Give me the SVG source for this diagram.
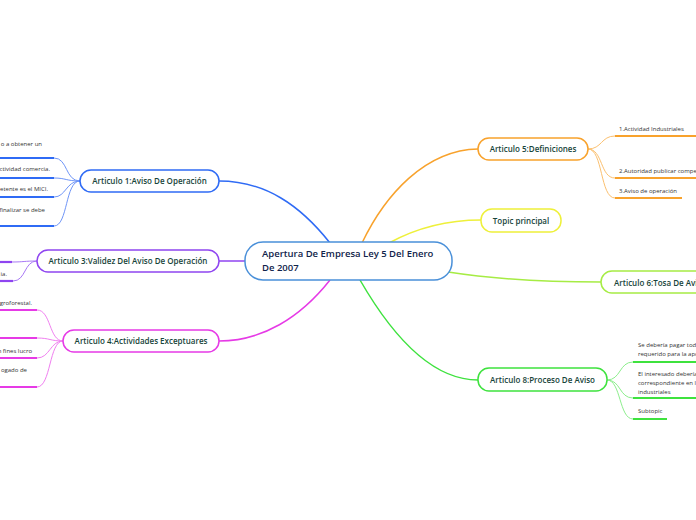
<svg xmlns="http://www.w3.org/2000/svg" width="696" height="520" viewBox="0 0 696 520">
<style>
.node{fill:#ffffff;stroke-width:1.5}
.nt{font-family:"Open Sans","Noto Sans",sans-serif;font-size:8px;font-weight:600;fill:#17443a;text-anchor:middle}
.ct{font-family:"Open Sans","Noto Sans",sans-serif;font-size:9.5px;font-weight:600;fill:#10234a}
.lt{font-family:"Open Sans","Noto Sans",sans-serif;font-size:6px;fill:#333333}
.le{text-anchor:end}
.main{fill:none;stroke-width:1.5}
.sub{fill:none;stroke-width:1}
.ul{fill:none;stroke-width:2.2}
</style>
<rect width="696" height="520" fill="#ffffff"/>
<g id="connectors">
  <path class="main" stroke="#2f6bf5" d="M219,181 C265,181 300,205 330,243"/>
  <path class="main" stroke="#8f45f0" d="M245,261 L219,261"/>
  <path class="main" stroke="#e63ae6" d="M330,280 C300,318 262,341 219,341"/>
  <path class="main" stroke="#f8a22c" d="M362,243 C385,195 425,150 478,149"/>
  <path class="main" stroke="#eef03a" d="M389,243 C420,226 450,220 481,220"/>
  <path class="main" stroke="#a6ec44" d="M448,272 C500,280 550,282 601,282"/>
  <path class="main" stroke="#3ee23e" d="M360,280 C390,332 430,380 478,380"/>
  <g stroke="#6f95f7">
    <path class="sub" d="M80,181 C65,181 68,158 54,158"/>
    <path class="sub" d="M80,181 C66,181 66,178 54,178"/>
    <path class="sub" d="M80,181 C66,181 66,197 54,197"/>
    <path class="sub" d="M80,181 C65,181 68,226 54,226"/>
  </g>
  <g stroke="#2f6bf5">
    <path class="ul" d="M0,158 L54,158"/>
    <path class="ul" d="M0,178 L54,178"/>
    <path class="ul" d="M0,197 L54,197"/>
    <path class="ul" d="M0,226 L54,226"/>
  </g>
  <g stroke="#a877f5">
    <path class="sub" d="M37,261 C24,261 24,262 12,262"/>
    <path class="sub" d="M37,261 C24,261 26,281 13,281"/>
  </g>
  <g stroke="#8f45f0">
    <path class="ul" d="M0,262 L12,262"/>
    <path class="ul" d="M0,281 L13,281"/>
  </g>
  <g stroke="#f07ff0">
    <path class="sub" d="M63,341 C49,341 51,310 37,310"/>
    <path class="sub" d="M63,341 C50,341 50,338 37,338"/>
    <path class="sub" d="M63,341 C50,341 50,358 37,358"/>
    <path class="sub" d="M63,341 C49,341 51,387 37,387"/>
  </g>
  <g stroke="#e63ae6">
    <path class="ul" d="M0,310 L37,310"/>
    <path class="ul" d="M0,338 L37,338"/>
    <path class="ul" d="M0,358 L37,358"/>
    <path class="ul" d="M0,387 L37,387"/>
  </g>
  <g stroke="#fbc06f">
    <path class="sub" d="M588,149 C602,149 601,136 615,136"/>
    <path class="sub" d="M588,149 C603,149 600,178 615,178"/>
    <path class="sub" d="M588,149 C603,149 600,198 615,198"/>
  </g>
  <g stroke="#f8a22c">
    <path class="ul" d="M615,136 L696,136"/>
    <path class="ul" d="M615,178 L696,178"/>
    <path class="ul" d="M615,198 L682,198"/>
  </g>
  <g stroke="#8cee8c">
    <path class="sub" d="M607,380 C621,380 619,362 633,362"/>
    <path class="sub" d="M607,380 C621,380 619,398 633,398"/>
    <path class="sub" d="M607,380 C621,380 619,419 633,419"/>
  </g>
  <g stroke="#3ee23e">
    <path class="ul" d="M633,362 L696,362"/>
    <path class="ul" d="M633,398 L696,398"/>
    <path class="ul" d="M633,419 L667,419"/>
  </g>
</g>
<g id="central">
  <rect class="node" x="245" y="242" width="207" height="38" rx="18" stroke="#4a90d9"/>
  <text class="ct" x="262" y="257">Apertura De Empresa Ley 5 Del Enero</text>
  <text class="ct" x="262" y="271">De 2007</text>
</g>
<g id="art1">
  <rect class="node" x="80" y="170" width="139" height="22" rx="11" stroke="#2f6bf5"/>
  <text class="nt" x="149.5" y="184">Articulo 1:Aviso De Operación</text>
</g>
<g id="art1-leaves">
  <text class="lt le" x="42" y="146">o a obtener un</text>
  <text class="lt le" x="50" y="171">ctividad comercia.</text>
  <text class="lt le" x="48" y="191">etente es el MICI.</text>
  <text class="lt le" x="45" y="212">finalizar se debe</text>
</g>
<g id="art3">
  <rect class="node" x="37" y="250" width="182" height="22" rx="11" stroke="#8f45f0"/>
  <text class="nt" x="128" y="264">Articulo 3:Validez Del Aviso De Operación</text>
</g>
<g id="art3-leaves">
  <text class="lt le" x="7" y="276">ia.</text>
</g>
<g id="art4">
  <rect class="node" x="63" y="330" width="156" height="22" rx="11" stroke="#e63ae6"/>
  <text class="nt" x="141" y="344">Articulo 4:Actividades Exceptuares</text>
</g>
<g id="art4-leaves">
  <text class="lt le" x="32" y="305">groforestal.</text>
  <text class="lt le" x="32" y="353">n fines lucro</text>
  <text class="lt le" x="27" y="372">ogado de</text>
</g>
<g id="art5">
  <rect class="node" x="478" y="138" width="110" height="22" rx="11" stroke="#f8a22c"/>
  <text class="nt" x="533" y="152">Articulo 5:Definiciones</text>
</g>
<g id="art5-leaves">
  <text class="lt" x="619" y="131">1.Actividad Industriales</text>
  <text class="lt" x="619" y="173">2.Autoridad publicar compe</text>
  <text class="lt" x="619" y="193">3.Aviso de operación</text>
</g>
<g id="topic">
  <rect class="node" x="481" y="209" width="80" height="23" rx="11" stroke="#eef03a"/>
  <text class="nt" x="521" y="223.5">Topic principal</text>
</g>
<g id="art6">
  <rect class="node" x="601" y="271" width="110" height="22" rx="11" stroke="#a6ec44"/>
  <text class="nt" x="614" y="285.5" style="text-anchor:start">Articulo 6:Tosa De Avis</text>
</g>
<g id="art8">
  <rect class="node" x="478" y="368" width="129" height="23" rx="11" stroke="#3ee23e"/>
  <text class="nt" x="542.5" y="382.5">Articulo 8:Proceso De Aviso</text>
</g>
<g id="art8-leaves">
  <text class="lt" x="638" y="347">Se debería pagar tod</text>
  <text class="lt" x="638" y="356">requerido para la apo</text>
  <text class="lt" x="638" y="376">El interesado debería</text>
  <text class="lt" x="638" y="385">correspondiente en l</text>
  <text class="lt" x="638" y="394">industriales</text>
  <text class="lt" x="638" y="413">Subtopic</text>
</g>
</svg>
